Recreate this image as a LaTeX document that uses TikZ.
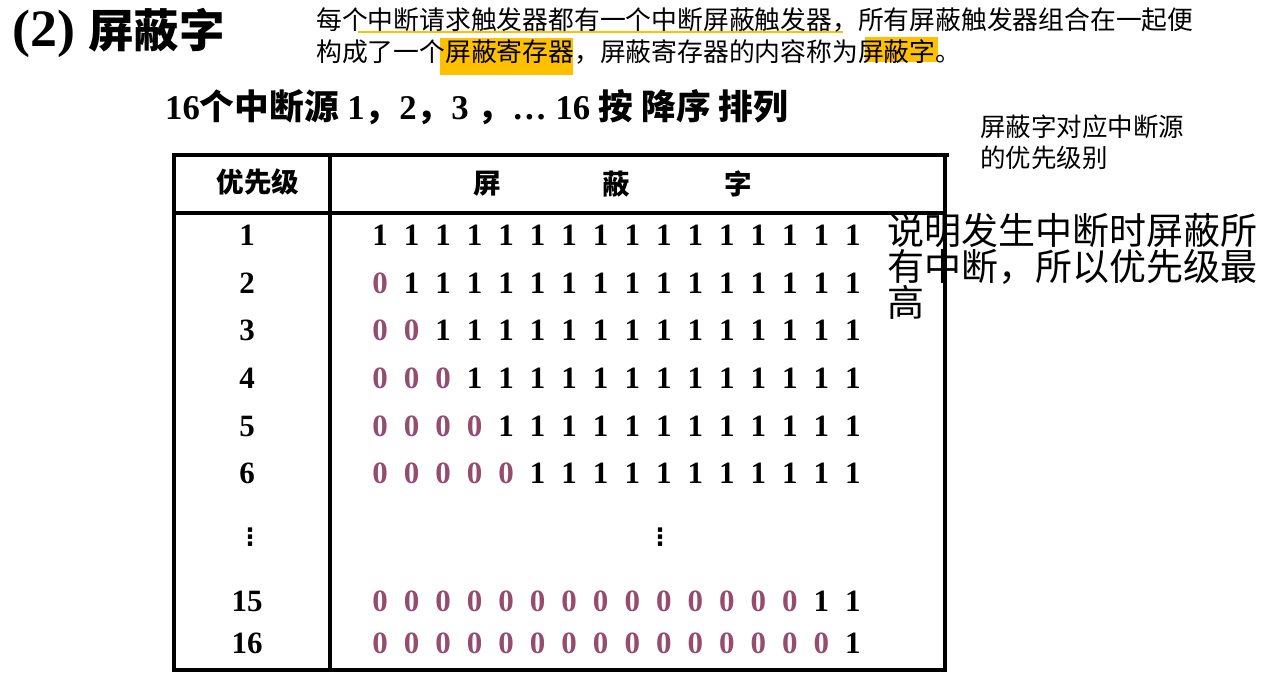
\documentclass[tikz,border=0pt]{standalone}
\usepackage{fontspec}
\setmainfont{Liberation Serif}
\newfontfamily\cjk{Noto Sans CJK SC}
\newfontfamily\djv{DejaVu Sans}
\definecolor{zerocol}{RGB}{148,76,112}
\definecolor{hl}{RGB}{255,192,0}
\tikzset{
  grid/.style={line width=3.2pt, line cap=rect},
  bit/.style={font=\fontsize{31}{31}\selectfont\bfseries, inner sep=0pt},
  zero/.style={bit, text=zerocol},
  prio/.style={font=\fontsize{31}{31}\selectfont\bfseries, inner sep=0pt},
  para/.style={font=\cjk\fontsize{25.8}{25.8}\selectfont, inner sep=0pt, anchor=west},
  hdr/.style={inner sep=0pt, font=\cjk\bfseries\fontsize{27.5}{27.5}\selectfont},
  vdot/.style={inner sep=0pt, font=\djv\bfseries\fontsize{24}{24}\selectfont},
}
\begin{document}
\begin{tikzpicture}[x=1pt,y=-1pt]
\useasboundingbox (0,0) rectangle (1265,687);
% highlights
\fill[hl] (440,38) rectangle (573,75);
\fill[hl] (865,37) rectangle (938,62);
\draw[hl, line width=2.5pt] (358,32) -- (843,32);
% title
\node[anchor=base west, inner sep=0pt, font=\fontsize{50}{50}\selectfont\bfseries] (t2) at (12,47) {\scalebox{1.08}[1.05]{(2)}};
\node[anchor=west, inner sep=0pt, font=\cjk\bfseries\fontsize{45.5}{45.5}\selectfont] (tt) at (88,30) {屏蔽字};
% paragraph
\node[para] (p1) at (316,20) {每个中断请求触发器都有一个中断屏蔽触发器，所有屏蔽触发器组合在一起便};
\node[para] (p2) at (316,52) {构成了一个屏蔽寄存器，屏蔽寄存器的内容称为屏蔽字。};
% subtitle
\node[anchor=west, inner sep=0pt, font=\fontsize{34.7}{34.7}\selectfont\bfseries] (sub) at (165,107)
  {16{\cjk 个中断源} 1{\cjk ，}2{\cjk ，}3 {\cjk ，}… 16 {\cjk 按 降序 排列}};
% side note
\node[anchor=north west, inner sep=0pt, align=left, font=\cjk\fontsize{25.5}{31}\selectfont] (note) at (980,115)
  {屏蔽字对应中断源\\的优先级别};
% table lines
\coordinate (tl) at (174,155);
\coordinate (tr) at (945,155);
\coordinate (bl) at (174,670);
\coordinate (br) at (945,670);
\coordinate (dt) at (330,155);
\coordinate (db) at (330,670);
\coordinate (hl0) at (174,213);
\coordinate (hr0) at (945,213);
\draw[grid] (177,155) -- (947,155);
\draw[grid] (tl) -- (bl) -- (br) -- (tr);
\draw[grid] (dt) -- (db);
\draw[grid] (hl0) -- (hr0);
% header
\node[hdr] (hp) at (258,182) {优先级};
\node[hdr] (h1) at (487,184) {屏};
\node[hdr] (h2) at (616,184) {蔽};
\node[hdr] (h3) at (738,184) {字};
% rows 1..6
\foreach \r/\y in {1/235,2/283,3/330,4/378,5/426,6/473}{
  \node[prio] (p-\r) at (247,\y) {\r};
  \foreach \c in {1,...,16}{
    \pgfmathtruncatemacro{\isz}{\c<\r ? 1 : 0}
    \ifnum\isz=1
      \node[zero] (b-\r-\c) at ({380+(\c-1)*31.53},\y) {0};
    \else
      \node[bit] (b-\r-\c) at ({380+(\c-1)*31.53},\y) {1};
    \fi
  }
}
% dots
\node[vdot] (vd1) at (250,537) {⋮};
\node[vdot] (vd2) at (660,537) {⋮};
% rows 15, 16
\foreach \r/\y/\n in {15/601/14,16/643/15}{
  \node[prio] (p-\r) at (247,\y) {\r};
  \foreach \c in {1,...,16}{
    \ifnum\c>\n
      \node[bit] (b-\r-\c) at ({380+(\c-1)*31.53},\y) {1};
    \else
      \node[zero] (b-\r-\c) at ({380+(\c-1)*31.53},\y) {0};
    \fi
  }
}
% explanation
\node[anchor=north west, inner sep=0pt, align=left, font=\cjk\fontsize{37}{36}\selectfont] (ex) at (887,213)
  {说明发生中断时屏蔽所\\有中断，所以优先级最\\高};
\end{tikzpicture}
\end{document}
